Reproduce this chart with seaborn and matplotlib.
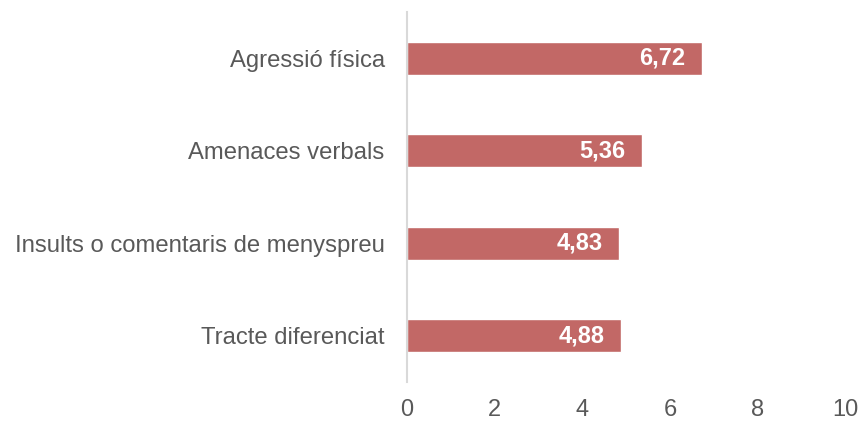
import matplotlib.pyplot as plt
import pandas as pd
import seaborn as sns

categories = [
    "Agressió física",
    "Amenaces verbals",
    "Insults o comentaris de menyspreu",
    "Tracte diferenciat",
]
values = [6.72, 5.36, 4.83, 4.88]
x_ticks = [0, 2, 4, 6, 8, 10]

BAR_COLOR = "#C26866"
TEXT_COLOR = "#595959"

sns.set_theme(style="white")
plt.rcParams["font.family"] = ["Liberation Sans", "DejaVu Sans"]

df = pd.DataFrame({"category": categories, "value": values})

fig = plt.figure(figsize=(8.62, 4.21), dpi=100)
ax = fig.add_axes([0.472, 0.093, 0.509, 0.878])

sns.barplot(data=df, x="value", y="category", color=BAR_COLOR, width=0.36,
            saturation=1, ax=ax)

for i, v in enumerate(values):
    ax.text(v - 0.37, i, f"{v:.2f}".replace(".", ","), ha="right", va="center",
            color="white", fontsize=17, fontweight="bold")

ax.set_xlim(0, 10)
ax.set_ylim(3.5, -0.5)
ax.set_xticks(x_ticks)
ax.set_xlabel("")
ax.set_ylabel("")
ax.tick_params(axis="x", length=0, pad=12, labelsize=17, labelcolor=TEXT_COLOR)
ax.tick_params(axis="y", length=0, pad=16, labelsize=17.2, labelcolor=TEXT_COLOR)

for side in ["top", "right", "bottom"]:
    ax.spines[side].set_visible(False)
ax.spines["left"].set_color("#D9D9D9")
ax.spines["left"].set_linewidth(1.5)

fig.savefig("out.png", dpi=100)
